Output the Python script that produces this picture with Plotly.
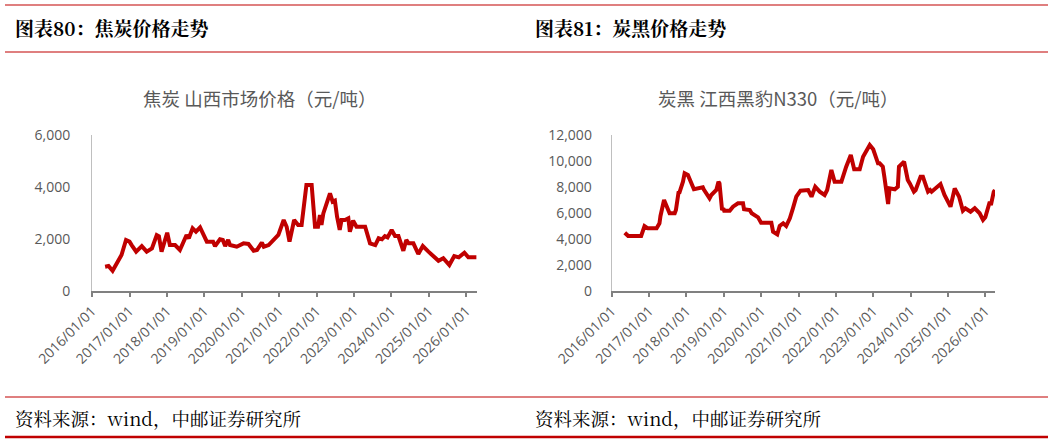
import plotly.graph_objects as go

# ---------------- data ----------------
coke_dates = [
    "2016-05-08", "2016-06-10", "2016-07-20", "2016-08-30", "2016-10-15", "2016-11-28",
    "2017-01-01", "2017-01-22", "2017-03-07", "2017-05-01", "2017-06-18", "2017-08-08",
    "2017-09-24", "2017-10-15", "2017-11-10", "2018-01-04", "2018-01-30", "2018-03-22",
    "2018-05-08", "2018-07-12", "2018-08-03", "2018-09-09", "2018-10-12", "2018-11-21",
    "2019-01-26", "2019-03-28", "2019-04-16", "2019-06-03", "2019-07-01", "2019-07-24",
    "2019-08-22", "2019-09-09", "2019-11-14", "2020-01-19", "2020-03-07", "2020-04-27",
    "2020-05-30", "2020-07-16", "2020-08-04", "2020-09-20", "2020-11-21", "2020-12-24",
    "2021-02-14", "2021-03-15", "2021-04-12", "2021-05-27", "2021-07-05", "2021-08-08",
    "2021-09-24", "2021-11-14", "2021-12-17", "2022-01-15", "2022-02-03", "2022-02-18",
    "2022-03-08", "2022-04-10", "2022-05-12", "2022-06-07", "2022-06-29", "2022-07-20",
    "2022-08-15", "2022-09-02", "2022-10-05", "2022-11-07", "2022-11-22", "2022-12-24",
    "2023-01-26", "2023-04-20", "2023-06-07", "2023-07-28", "2023-08-30", "2023-10-01",
    "2023-10-30", "2023-11-25", "2024-01-04", "2024-02-06", "2024-03-10", "2024-04-27",
    "2024-05-26", "2024-06-17", "2024-08-03", "2024-09-20", "2024-11-03", "2024-12-28",
    "2025-02-17", "2025-04-05", "2025-05-22", "2025-07-20", "2025-09-06", "2025-10-20",
    "2025-12-14", "2026-01-22", "2026-04-10",
]
coke_values = [
    925, 950, 770, 1055, 1375, 1955,
    1890, 1760, 1505, 1720, 1505, 1630,
    2145, 2100, 1505, 2235, 1760, 1760,
    1570, 2145, 2020, 2405, 2275, 2440,
    1890, 1890, 1720, 1980, 1955, 1720,
    1955, 1760, 1695, 1825, 1800, 1540,
    1570, 1850, 1695, 1760, 2020, 2150,
    2725, 2465, 1890, 2725, 2530, 2530,
    4075, 4075, 2465, 2465, 2915, 2530,
    2980, 3430, 3750, 3430, 3470, 2850,
    2340, 2725, 2725, 2790, 2275, 2700,
    2465, 2465, 1825, 1760, 2020, 1980,
    2105, 2055, 2340, 2105, 2105, 1540,
    1955, 1825, 1825, 1415, 1720, 1505,
    1335, 1155, 1250, 990, 1335, 1285,
    1465, 1285, 1285,
]

cb_dates = [
    "2016-05-08", "2016-06-10", "2016-10-15", "2016-11-17", "2016-12-20", "2017-03-15",
    "2017-04-12", "2017-04-22", "2017-05-27", "2017-06-15", "2017-07-20", "2017-09-08",
    "2017-09-20", "2017-10-15", "2017-10-25", "2017-11-28", "2017-12-14", "2018-01-15",
    "2018-02-05", "2018-03-15", "2018-06-10", "2018-06-20", "2018-08-15", "2018-09-01",
    "2018-10-20", "2018-11-10", "2018-11-20", "2018-12-15", "2018-12-28", "2019-01-05",
    "2019-02-28", "2019-04-01", "2019-05-20", "2019-07-08", "2019-07-18", "2019-09-12",
    "2019-10-01", "2019-12-02", "2020-01-01", "2020-04-10", "2020-04-27", "2020-06-07",
    "2020-07-01", "2020-08-04", "2020-09-02", "2020-10-08", "2020-11-07", "2020-12-10",
    "2021-01-20", "2021-04-05", "2021-05-08", "2021-06-13", "2021-07-27", "2021-09-13",
    "2021-10-08", "2021-11-18", "2021-12-20", "2022-02-24", "2022-04-12", "2022-05-27",
    "2022-06-29", "2022-08-22", "2022-09-24", "2022-10-27", "2022-11-28", "2023-01-01",
    "2023-02-17", "2023-03-05", "2023-04-05", "2023-04-20", "2023-05-27", "2023-06-10",
    "2023-07-31", "2023-08-30", "2023-09-10", "2023-10-30", "2023-12-05", "2023-12-25",
    "2024-02-03", "2024-02-20", "2024-04-08", "2024-05-01", "2024-06-20", "2024-07-10",
    "2024-07-25", "2024-10-20", "2024-11-28", "2025-01-26", "2025-03-08", "2025-04-20",
    "2025-05-27", "2025-06-20", "2025-08-10", "2025-09-20", "2025-11-07", "2025-12-10",
    "2026-01-01", "2026-02-14", "2026-02-25", "2026-03-25", "2026-04-05",
]
cb_values = [
    4470, 4215, 4215, 4985, 4810, 4810,
    5195, 5760, 6990, 6605, 5965, 5965,
    6220, 7555, 7580, 8400, 9050, 8920,
    8480, 7815, 7970, 7800, 7120, 7375,
    7760, 8400, 8270, 6220, 6350, 6160,
    6165, 6475, 6735, 6735, 6275, 6220,
    5965, 5655, 5240, 5240, 4550, 4345,
    4985, 5195, 4985, 5580, 6350, 7245,
    7710, 7760, 7245, 8015, 7630, 7375,
    7760, 9300, 8400, 8400, 9555, 10460,
    9355, 9355, 10330, 10845, 11230, 10895,
    9815, 9815, 9555, 8785, 6680, 7890,
    7815, 8015, 9555, 9940, 8530, 8270,
    7630, 7760, 8785, 8785, 7630, 7760,
    7630, 8220, 7375, 6475, 7890, 7245,
    6165, 6350, 6090, 6350, 5965, 5450,
    5655, 6860, 6600, 7630, 7760,
]

year_ticks = [f"{y}-01-01" for y in range(2016, 2027)]
year_labels = [f"{y}/01/01" for y in range(2016, 2027)]

left_header = "图表80：焦炭价格走势"
right_header = "图表81：炭黑价格走势"
left_title = "焦炭 山西市场价格（元/吨）"
right_title = "炭黑 江西黑豹N330（元/吨）"
source_text = "资料来源：wind，中邮证券研究所"

# ---------------- figure ----------------
W, H = 1050, 444
RED = "#C00000"
GRAY_TXT = "#595959"
LABEL_FONT = "Open Sans, Noto Sans CJK SC, sans-serif"
CJK_SANS = "Noto Sans CJK SC, sans-serif"
CJK_SERIF = "Noto Serif CJK SC, Noto Sans CJK SC, serif"


def px(x):
    return x / W


def py(y):
    return 1 - y / H


fig = go.Figure()
fig.add_trace(go.Scatter(x=coke_dates, y=coke_values, mode="lines",
                         line=dict(color=RED, width=4), xaxis="x", yaxis="y",
                         showlegend=False, hoverinfo="x+y"))
fig.add_trace(go.Scatter(x=cb_dates, y=cb_values, mode="lines",
                         line=dict(color=RED, width=4), xaxis="x2", yaxis="y2",
                         showlegend=False, hoverinfo="x+y"))

xaxis_common = dict(
    type="date", tickmode="array", tickvals=year_ticks, ticktext=year_labels,
    tickangle=-45, ticks="outside", ticklen=5, tickwidth=1.5, tickcolor="#808080",
    showline=True, linecolor="#808080", linewidth=1.5, showgrid=False, zeroline=False,
    tickfont=dict(family=LABEL_FONT, size=14, color=GRAY_TXT), fixedrange=True,
    automargin=False,
)
yaxis_common = dict(
    showline=True, linecolor="#BFBFBF", linewidth=1, showgrid=False, zeroline=False,
    ticks="", tickformat=",d", separatethousands=True,
    tickfont=dict(family=LABEL_FONT, size=14, color=GRAY_TXT), fixedrange=True,
    automargin=False,
)

fig.update_layout(
    template="none",
    width=W, height=H, margin=dict(l=0, r=0, t=0, b=0, pad=0, autoexpand=False),
    paper_bgcolor="white", plot_bgcolor="white", showlegend=False,
    xaxis=dict(xaxis_common, domain=[px(92), px(477)], range=["2016-01-01", "2026-04-16"],
               anchor="y"),
    yaxis=dict(yaxis_common, domain=[py(290.7), py(135)], range=[0, 6000], dtick=2000,
               anchor="x", ticklabelstandoff=18),
    xaxis2=dict(xaxis_common, domain=[px(611.7), px(995)], range=["2016-01-01", "2026-04-06"],
                anchor="y2"),
    yaxis2=dict(yaxis_common, domain=[py(290.7), py(135)], range=[0, 12000], dtick=2000,
                anchor="x2", ticklabelstandoff=16),
)

shapes = []
for yv, w in [(5, 1.2), (52, 1.2), (397, 1.2)]:
    shapes.append(dict(type="line", xref="paper", yref="paper", x0=px(5), x1=px(1048),
                       y0=py(yv), y1=py(yv), line=dict(color=RED, width=w)))
shapes.append(dict(type="line", xref="paper", yref="paper", x0=px(5), x1=px(1048),
                   y0=py(437), y1=py(437), line=dict(color=RED, width=2.6)))
fig.update_layout(shapes=shapes)

annotations = [
    dict(text=f"<b>{left_header}</b>", x=px(13), y=py(27), xanchor="left", yanchor="middle",
         font=dict(family=CJK_SERIF, size=19, color="black")),
    dict(text=f"<b>{right_header}</b>", x=px(533), y=py(27), xanchor="left", yanchor="middle",
         font=dict(family=CJK_SERIF, size=19, color="black")),
    dict(text=left_title, x=px(259), y=py(98), xanchor="center", yanchor="middle",
         font=dict(family=CJK_SANS, size=18.5, color=GRAY_TXT)),
    dict(text=right_title, x=px(778), y=py(98), xanchor="center", yanchor="middle",
         font=dict(family=CJK_SANS, size=18.5, color=GRAY_TXT)),
    dict(text=source_text, x=px(13), y=py(418), xanchor="left", yanchor="middle",
         font=dict(family=CJK_SERIF, size=18.5, color="black")),
    dict(text=source_text, x=px(533), y=py(418), xanchor="left", yanchor="middle",
         font=dict(family=CJK_SERIF, size=18.5, color="black")),
]
for a in annotations:
    a.update(xref="paper", yref="paper", showarrow=False)
fig.update_layout(annotations=annotations)

fig.write_html("out.html", config={"displayModeBar": False})
